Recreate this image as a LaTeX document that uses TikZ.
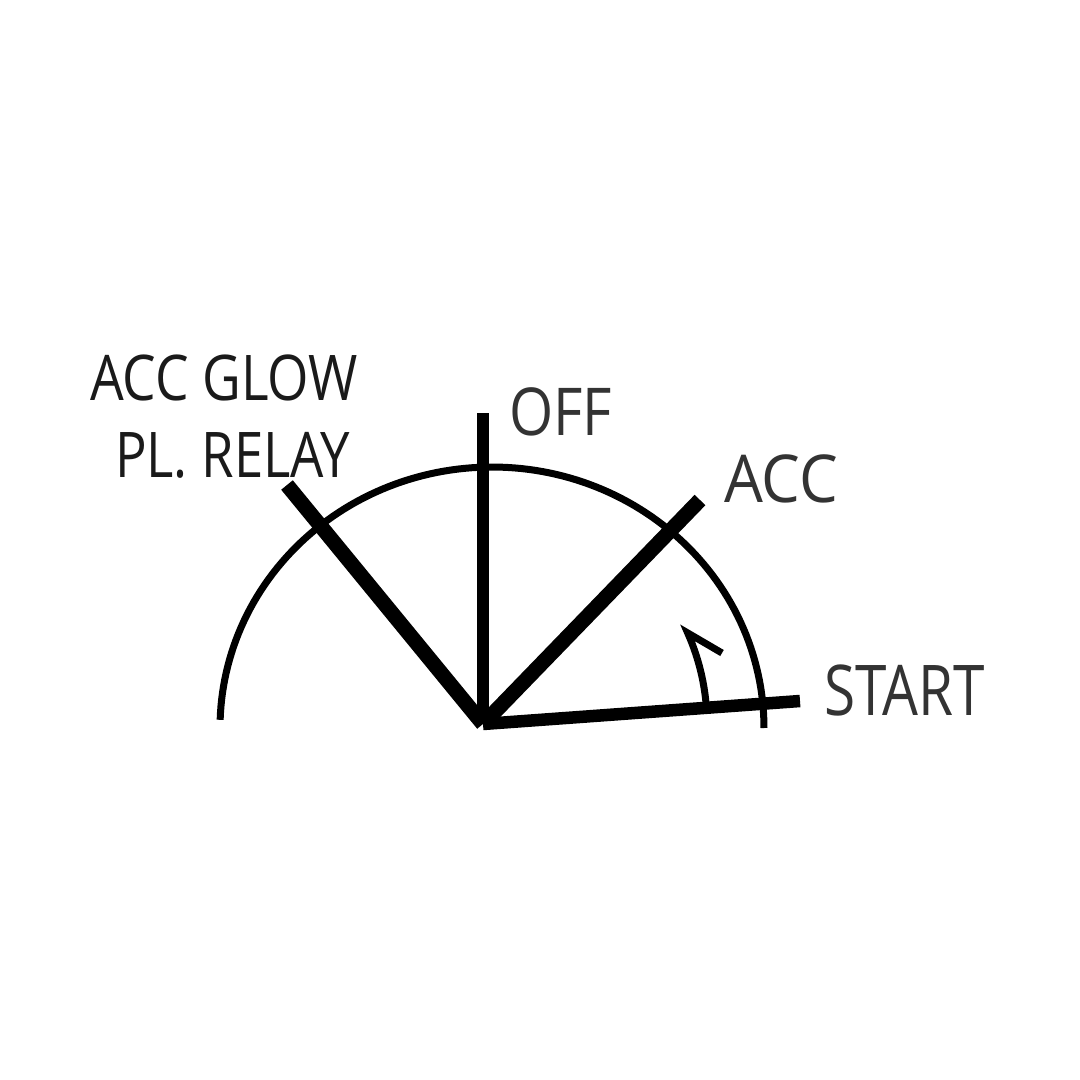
\documentclass[tikz,border=0pt]{standalone}
\usepackage{fontspec}
\usepackage{graphicx}
\setmainfont{Open Sans}
\definecolor{txtdark}{HTML}{1A1A1A}
\definecolor{txtgray}{HTML}{333333}
\tikzset{
  lbl/.style={anchor=base west, inner sep=0pt, outer sep=0pt},
  pointer/.style={line width=#1, black, line cap=butt},
  dialarc/.style={line width=7pt, black},
}
\begin{document}
\begin{tikzpicture}[x=1pt,y=-1pt]
\useasboundingbox[fill=white] (0,0) rectangle (1080,1080);
% hub and pointer ends
\coordinate (C) at (483,724);
\coordinate (offend) at (483,413);
\coordinate (plend) at (287,485);
\coordinate (accend) at (700,500);
\coordinate (startend) at (800,701);
\coordinate (hooktip) at (722,653);
% dial arc
\draw[dialarc] plot[domain=178.2:0,samples=120] ({492+272*cos(\x)},{728-261*sin(\x)});
% pointers
\draw[pointer=12pt] (C) -- (offend);
\draw[pointer=15pt] (C) -- (plend);
\draw[pointer=15pt] (C) -- (accend);
\draw[pointer=12.5pt] (C) -- (startend);
% spring-return arrow
\draw[line width=7pt, line join=miter] plot[domain=5.3:24,samples=40] ({483+224*cos(\x)},{724-224*sin(\x)}) -- (hooktip);
% labels
\node[lbl, text=txtdark] (glow) at (90,400) {\fontsize{63}{63}\selectfont\scalebox{0.845}[1]{ACC GLOW}};
\node[lbl, text=txtdark] (relay) at (115,477) {\fontsize{63}{63}\selectfont\scalebox{0.835}[1]{PL. RELAY}};
\node[lbl, text=txtgray] (off) at (509,435) {\fontsize{66}{66}\selectfont\scalebox{0.86}[1]{OFF}};
\node[lbl, text=txtgray] (acc) at (724,502) {\fontsize{66}{66}\selectfont\scalebox{0.93}[1]{ACC}};
\node[lbl, text=txtgray] (start) at (824,715) {\fontsize{70}{70}\selectfont\scalebox{0.81}[1]{START}};
\end{tikzpicture}
\end{document}
